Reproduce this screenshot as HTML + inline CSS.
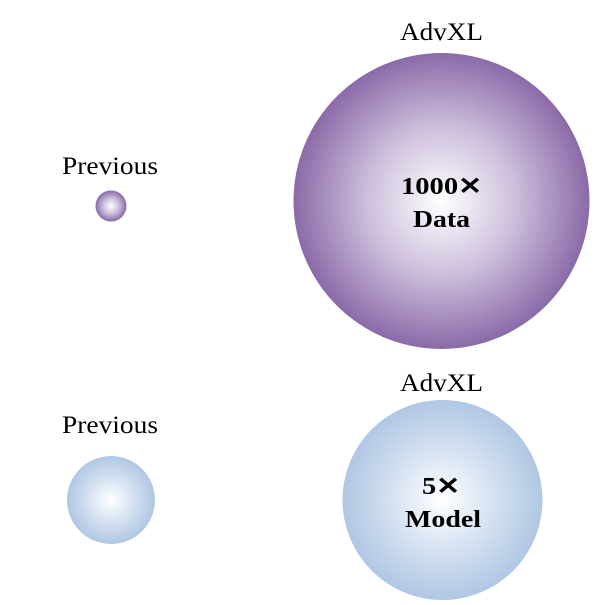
<!DOCTYPE html>
<html><head><style>body{margin:0;background:#fff}</style></head><body>
<svg width="600" height="600" xmlns="http://www.w3.org/2000/svg" font-family="Liberation Serif, serif">
<defs>
<radialGradient id="p"><stop offset="0" stop-color="#ffffff"/><stop offset="0.5" stop-color="#cdbfdc"/><stop offset="1" stop-color="#8a6aa8"/></radialGradient>
<radialGradient id="b"><stop offset="0" stop-color="#ffffff"/><stop offset="0.55" stop-color="#d2dff0"/><stop offset="1" stop-color="#b0c7e3"/></radialGradient>
</defs>
<circle cx="441.5" cy="201" r="148" fill="url(#p)"/>
<circle cx="111" cy="206" r="15.5" fill="url(#p)"/>
<circle cx="442.5" cy="500" r="100" fill="url(#b)"/>
<circle cx="111" cy="500" r="44" fill="url(#b)"/>
<g font-size="25" fill="#000" lengthAdjust="spacingAndGlyphs">
<text x="400" y="40" textLength="83" lengthAdjust="spacingAndGlyphs">AdvXL</text>
<text x="62" y="174" textLength="96" lengthAdjust="spacingAndGlyphs">Previous</text>
<text x="400" y="391" textLength="83" lengthAdjust="spacingAndGlyphs">AdvXL</text>
<text x="62" y="433" textLength="96" lengthAdjust="spacingAndGlyphs">Previous</text>
</g>
<g font-size="24" font-weight="bold" fill="#000">
<text x="401" y="194" textLength="81" lengthAdjust="spacingAndGlyphs">1000✕</text>
<text x="413" y="227" textLength="57" lengthAdjust="spacingAndGlyphs">Data</text>
<text x="422" y="494" textLength="38" lengthAdjust="spacingAndGlyphs">5✕</text>
<text x="405" y="527" textLength="76" lengthAdjust="spacingAndGlyphs">Model</text>
</g>
</svg>
</body></html>
